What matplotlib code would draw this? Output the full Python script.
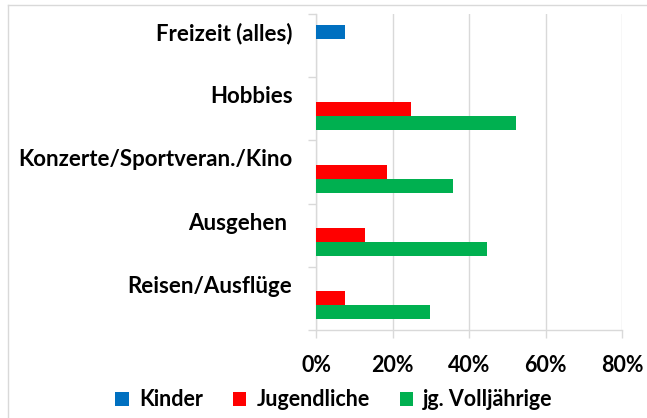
import numpy as np
import matplotlib.pyplot as plt
from matplotlib.lines import Line2D
from matplotlib.ticker import FuncFormatter

# Daten
kategorien = ['Freizeit (alles)', 'Hobbies', 'Konzerte/Sportveran./Kino', 'Ausgehen ', 'Reisen/Ausflüge']
serien = ['Kinder', 'Jugendliche', 'jg. Volljährige']
kinder = [7.7, 0, 0, 0, 0]
jugendliche = [0, 24.9, 18.5, 12.7, 7.7]
volljaehrige = [0, 52.4, 35.9, 44.8, 29.9]
farben = ['#0070C0', '#FF0000', '#00B050']

plt.rcParams['font.family'] = ['Lato', 'DejaVu Sans']
plt.rcParams['font.weight'] = 'bold'

fig = plt.figure(figsize=(6.47, 4.18), dpi=100)
ax = fig.add_axes([316 / 647, 88 / 418, 306 / 647, 316 / 418])

grau = '#d9d9d9'
n = len(kategorien)
idx = np.arange(n)
h = 2 / 9  # Balkenhöhe (Abstand 50 %)
offsets = [1 / 6 + h / 2, 0.5, 5 / 6 - h / 2]

for werte, off, farbe, name in zip([kinder, jugendliche, volljaehrige], offsets, farben, serien):
    werte = np.array(werte) / 100
    ax.barh(idx + off, werte, height=h, color=farbe, label=name, zorder=3)

ax.set_xlim(0, 0.8)
ax.set_ylim(n, 0)
ax.set_xticks([0, 0.2, 0.4, 0.6, 0.8])
ax.xaxis.set_major_formatter(FuncFormatter(lambda v, p: f'{v * 100:.0f}%'))
ax.grid(axis='x', color=grau, linewidth=1, zorder=0)

# Kategorienbeschriftung auf Höhe der obersten Reihe
ax.set_yticks(idx + offsets[0])
ax.set_yticklabels(kategorien, fontsize=16, fontweight='bold')
ax.set_yticks(np.arange(n + 1), minor=True)
ax.tick_params(axis='y', which='major', length=0, pad=17)
ax.tick_params(axis='y', which='minor', length=5.8, color=grau, width=1)
ax.tick_params(axis='x', length=5.8, color=grau, width=1, labelsize=15.5, pad=12.5)

for s in ['top', 'right']:
    ax.spines[s].set_visible(False)
for s in ['left', 'bottom']:
    ax.spines[s].set_color(grau)
    ax.spines[s].set_linewidth(1)

fig.legend(loc='center', bbox_to_anchor=(334 / 647, 18 / 418), ncol=3, frameon=False,
           fontsize=15.5, handlelength=0.62, handleheight=0.6, handletextpad=0.47,
           columnspacing=1.4)

# Rahmen des Diagramms
fig.add_artist(Line2D([8 / 647, 1], [1 - 5 / 418, 1 - 5 / 418], color=grau, lw=1))
fig.add_artist(Line2D([8 / 647, 8 / 647], [0, 1 - 5 / 418], color=grau, lw=1))

fig.savefig('out.png', dpi=100)
